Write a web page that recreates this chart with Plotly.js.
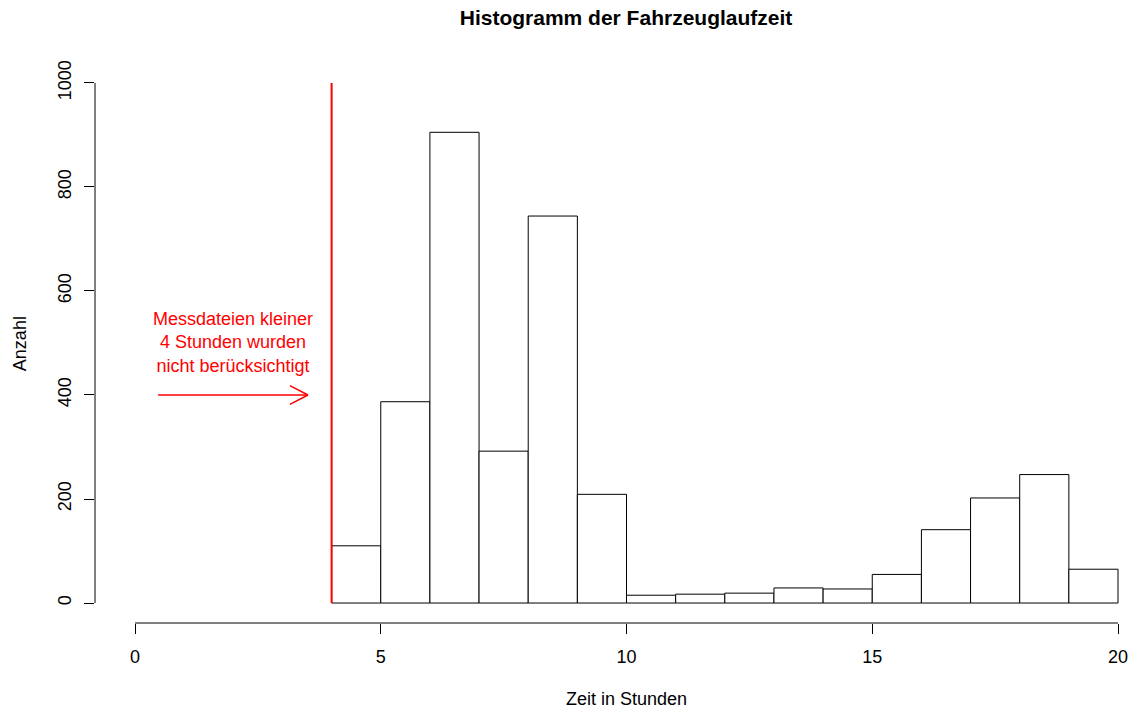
<!DOCTYPE html>
<html>
<head>
<meta charset="utf-8">
<script src="https://cdn.plot.ly/plotly-3.0.1.min.js"></script>
<style>html,body{margin:0;padding:0;background:#fff;}#chart{width:1133px;height:709px;}</style>
</head>
<body>
<div id="chart"></div>
<script>
// Histogram bins (hours) and counts
var binStart = [4, 5, 6, 7, 8, 9, 10, 11, 12, 13, 14, 15, 16, 17, 18, 19];
var counts   = [110, 387, 905, 292, 744, 209, 15, 17, 19, 29, 27, 55, 141, 202, 247, 65];
var xTicks = [0, 5, 10, 15, 20];
var yTicks = [0, 200, 400, 600, 800, 1000];
var cutoffHour = 4;
var noteText = ["Messdateien kleiner", "4 Stunden wurden", "nicht berücksichtigt"];
var xTitle = "Zeit in Stunden";
var yTitle = "Anzahl";
var mainTitle = "Histogramm der Fahrzeuglaufzeit";

var font = "Liberation Sans, Arial, Helvetica, sans-serif";

var trace = {
  type: "bar",
  x: binStart,
  y: counts,
  width: binStart.map(function(){return 1;}),
  offset: 0,
  marker: {color: "#ffffff", line: {color: "#000000", width: 1}},
  hoverinfo: "skip"
};

var shapes = [
  // x axis line (0..20)
  {type: "line", xref: "x", yref: "paper", x0: xTicks[0], x1: xTicks[xTicks.length-1], y0: 0, y1: 0,
   line: {color: "#000", width: 1}},
  // y axis line (0..1000)
  {type: "line", xref: "paper", yref: "y", x0: 0, x1: 0, y0: yTicks[0], y1: yTicks[yTicks.length-1],
   line: {color: "#000", width: 1}},
  // red cutoff line
  {type: "line", xref: "x", yref: "y", x0: cutoffHour, x1: cutoffHour, y0: 0, y1: 1000,
   line: {color: "#ff0000", width: 2}},
  // arrow shaft
  {type: "line", xref: "x", yref: "y", x0: 0.47, x1: 3.52, y0: 400, y1: 400,
   line: {color: "#ff0000", width: 1.5}},
  // arrow head
  {type: "line", xref: "x", yref: "y", x0: 3.52, x1: 3.15, y0: 400, y1: 418,
   line: {color: "#ff0000", width: 1.5}},
  {type: "line", xref: "x", yref: "y", x0: 3.52, x1: 3.15, y0: 400, y1: 382,
   line: {color: "#ff0000", width: 1.5}}
];

var layout = {
  width: 1133,
  height: 709,
  margin: {l: 95, r: 0, t: 60, b: 86, pad: 0},
  paper_bgcolor: "#ffffff",
  plot_bgcolor: "#ffffff",
  showlegend: false,
  bargap: 0,
  font: {family: font, size: 18, color: "#000"},
  title: {
    text: "<b>" + mainTitle + "</b>",
    font: {family: font, size: 21, color: "#000"},
    xref: "paper", x: 0.5116, xanchor: "center",
    yref: "container", y: 1 - 18/709, yanchor: "middle"
  },
  xaxis: {
    range: [-0.814, 20.305],
    tickvals: xTicks,
    ticktext: xTicks.map(String),
    ticks: "outside",
    ticklen: 10,
    tickwidth: 1,
    tickcolor: "#000",
    ticklabelstandoff: 7,
    showline: false,
    showgrid: false,
    zeroline: false,
    tickfont: {family: font, size: 18, color: "#000"}
  },
  yaxis: {
    range: [-38.4, 1044],
    tickvals: yTicks,
    ticktext: yTicks.map(String),
    tickangle: -90,
    ticks: "outside",
    ticklen: 10,
    tickwidth: 1,
    tickcolor: "#000",
    ticklabelstandoff: 6,
    showline: false,
    showgrid: false,
    zeroline: false,
    tickfont: {family: font, size: 18, color: "#000"}
  },
  shapes: shapes,
  annotations: [
    {
      xref: "x", yref: "y", x: 2.0, y: 500,
      text: noteText.join("<br>"),
      showarrow: false,
      font: {family: font, size: 18, color: "#ff0000"},
      align: "center", xanchor: "center", yanchor: "middle"
    },
    {
      xref: "paper", yref: "paper", x: 0.5116, y: -0.135,
      text: xTitle, showarrow: false,
      font: {family: font, size: 18, color: "#000"},
      xanchor: "center", yanchor: "middle"
    },
    {
      xref: "paper", yref: "paper", x: -0.0723, y: 0.497,
      text: yTitle, showarrow: false, textangle: -90,
      font: {family: font, size: 18, color: "#000"},
      xanchor: "center", yanchor: "middle"
    }
  ]
};

Plotly.newPlot("chart", [trace], layout, {displayModeBar: false, staticPlot: true});
</script>
</body>
</html>
